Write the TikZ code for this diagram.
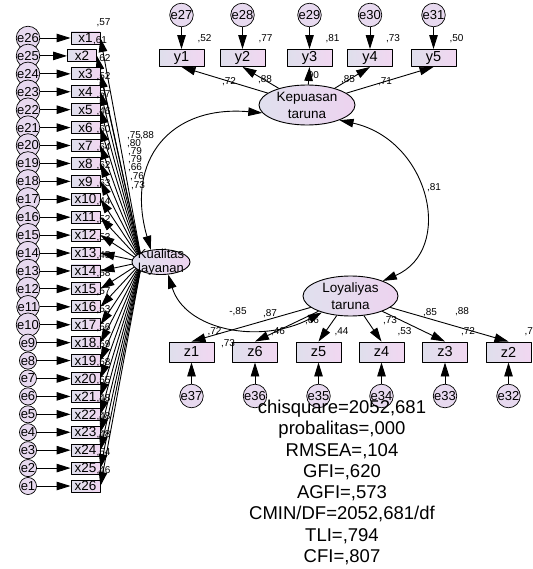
\documentclass[tikz,border=0pt]{standalone}
\usepackage{fontspec}
\setmainfont{Liberation Sans}
\usetikzlibrary{arrows.meta,shapes.geometric,calc}
\definecolor{obsl}{HTML}{DFDFEC}
\definecolor{obsr}{HTML}{F1D7F1}
\definecolor{errfill}{HTML}{E7D9EF}
\definecolor{latl}{HTML}{E0E0EE}
\definecolor{latr}{HTML}{EDD3EF}
\begin{document}
\begin{tikzpicture}[x=1pt, y=-1pt, line join=round, >={Triangle[length=14pt,width=8.5pt]},
	obs/.style={rectangle, draw, line width=0.9pt, left color=obsl, right color=obsr, minimum width=45pt, minimum height=17pt, inner sep=0pt, font=\fontsize{14.5}{14.5}\selectfont},
	obsx/.style={obs, minimum width=29pt, minimum height=12pt, font=\fontsize{13.5}{13.5}\selectfont},
	err/.style={circle, draw, line width=0.7pt, fill=errfill, minimum size=15pt, inner sep=0pt, font=\fontsize{13}{13}\selectfont},
	lat/.style={ellipse, draw, line width=0.9pt, left color=latl, right color=latr, inner sep=0pt, align=center, font=\fontsize{13.5}{17}\selectfont},
	est/.style={inner sep=0pt, font=\fontsize{10}{10}\selectfont},
	path/.style={line width=0.9pt}]
	\useasboundingbox (0,0) rectangle (532,569);
	% kualitas layanan: x1..x26
	\coordinate (kf) at (142,262);
	\foreach \i in {1,...,26}{
		\pgfmathsetmacro\yy{38+(\i-1)*17.92}
		\pgfmathsetmacro\xx{\i==2 ? 82 : 85.5}
		\pgfmathtruncatemacro\ee{27-\i}
		\node[obsx] (x\i) at (\xx,\yy) {x\i};
		\node[err] (e\ee) at (28,\yy) {e\ee};
		\draw[path,->] (e\ee) -- (x\i);
		\draw[path,->] (kf) -- (x\i.east);
	}
	\foreach \i/\r in {1/57,2/61,3/62,4/52,5/57,6/46,7/60,8/64,9/62,10/63,11/44,12/52,13/53,14/45,15/58,16/57,17/53,18/56,19/59,20/58,21/55,22/48,23/48,24/48,25/54,26/46}
		\node[est] (rx\i) at ($(x\i.north east)+(3,-9)$) {,\r};
	\foreach \l/\v/\p in {1/75/{(134,136)},2/88/{(147,136)},3/80/{(134,144)},4/79/{(135,152)},5/79/{(135,160)},6/66/{(135,168)},7/76/{(137,177)},8/73/{(138,186)}}
		\node[est] (lx\l) at \p {,\v};
	\node[lat, minimum width=58pt, minimum height=25pt, label={[font=\fontsize{13}{14}\selectfont, align=center]center:Kualitas\\layanan}] (kual) at (161,262) {};
	% kepuasan taruna: y1..y5
	\node[lat, minimum width=96pt, minimum height=40pt] (kep) at (307,105) {Kepuasan\\taruna};
	\foreach \i/\cx/\e/\r in {1/181.5/27/52, 2/242.5/28/77, 3/309.5/29/81, 4/370/30/73, 5/433.5/31/50}{
		\node[obs] (y\i) at (\cx,58) {y\i};
		\node[err] (e\e) at (\cx,15) {e\e};
		\draw[path,->] (e\e) -- (y\i);
		\draw[path,->] (kep) -- (y\i.south);
		\node[est] (ry\i) at ($(y\i.north east)+(0,-10)$) {,\r};
	}
	\foreach \l/\v/\p in {1/72/{(229,82)},2/88/{(265,80)},3/90/{(312,76)},4/85/{(348,80)},5/71/{(385,82)}}
		\node[est] (ly\l) at \p {,\v};
	% loyaliyas taruna: z1..z6
	\node[lat, minimum width=95pt, minimum height=40pt] (loy) at (350.5,296) {Loyaliyas\\taruna};
	\foreach \i/\cx/\e/\r in {1/191.5/37/72, 6/255/36/46, 5/318.5/35/44, 4/381.5/34/53, 3/445/33/72, 2/508.5/32/78}{
		\node[obs, minimum height=20pt] (z\i) at (\cx,352) {z\i};
		\node[err] (e\e) at (\cx,396) {e\e};
		\draw[path,->] (e\e) -- (z\i);
		\draw[path,->] (loy) -- (z\i.north);
		\node[est] (rz\i) at ($(z\i.north east)+(0,-10)$) {,\r};
	}
	\foreach \l/\v/\p in {1/73/{(228,344)},6/87/{(270,314)},5/66/{(312,321)},4/73/{(390,321)},3/85/{(430,313)},2/88/{(462,312)}}
		\node[est] (lz\l) at \p {,\v};
	% covariances
	\draw[path,<->] (kual.130) .. controls (125,160) and (170,105) .. (kep.190);
	\draw[path,<->] (kep.-25) .. controls (430,140) and (455,250) .. (loy.25);
	\draw[path,<->] (kual.-60) .. controls (185,330) and (260,345) .. (loy.210);
	\node[est] (ckl) at (434,188) {,81};
	\node[est] (cql) at (238,312) {-,85};
	% fit
	\node[align=center, font=\fontsize{18.5}{21.3}\selectfont] (fit) at (342,482.5) {chisquare=2052,681\\probalitas=,000\\RMSEA=,104\\GFI=,620\\AGFI=,573\\CMIN/DF=2052,681/df\\TLI=,794\\CFI=,807};
\end{tikzpicture}
\end{document}
